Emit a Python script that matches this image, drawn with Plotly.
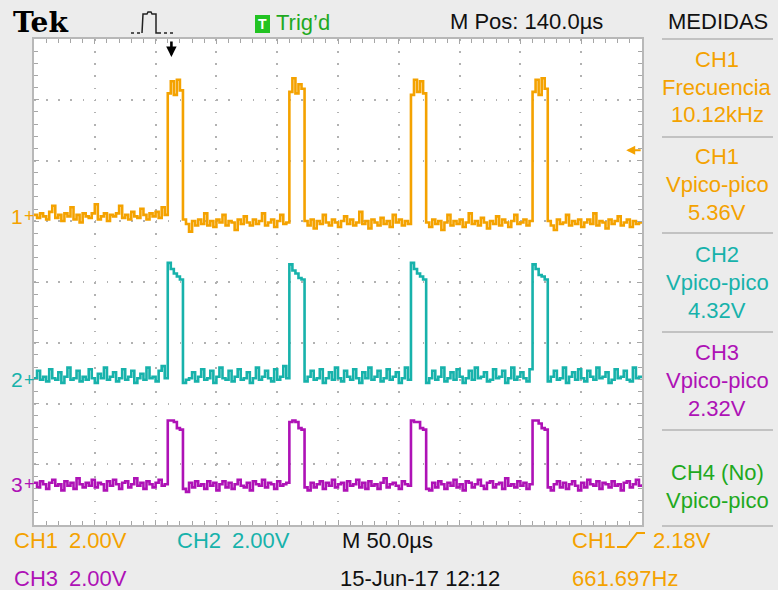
import plotly.graph_objects as go

# ---------------- data (volts relative to each channel's ground marker) ----------------
SAMPLE_US = 2.5          # sample spacing of the record
VOLTS_PER_DIV = 2.0      # CH1/CH2/CH3 2.00V/div
TIME_PER_DIV_US = 50.0   # M 50.0us

ch1_volts = [
    0.05, -0.05, 0.10, 0.00, -0.10, 0.15, 0.35, -0.05, 0.05, -0.15,
    0.10, 0.00, 0.30, -0.10, 0.05, -0.20, 0.10, 0.00, -0.05, 0.10,
    0.40, -0.10, 0.00, 0.10, -0.15, 0.05, 0.00, 0.10, 0.35, -0.05,
    0.05, -0.10, 0.15, 0.00, -0.05, 0.25, 0.05, -0.10, 0.10, 0.00,
    0.15, -0.05, 0.30, 0.05, 4.05, 4.45, 4.00, 4.50, 4.15, -0.10,
    -0.25, -0.50, -0.15, -0.30, -0.10, -0.25, 0.10, -0.30, -0.15, -0.35,
    -0.10, -0.20, 0.05, -0.30, -0.15, -0.20, -0.45, -0.10, -0.25, 0.00,
    -0.20, -0.30, -0.10, -0.25, -0.15, 0.10, -0.30, -0.20, -0.10, -0.35,
    -0.15, 0.05, -0.25, -0.20, 4.10, 4.55, 4.05, 4.35, 4.20, -0.15,
    -0.30, -0.10, -0.40, -0.15, -0.25, 0.05, -0.20, -0.30, -0.10, -0.20,
    -0.35, -0.15, 0.00, -0.25, -0.10, -0.30, -0.20, 0.15, -0.25, -0.15,
    -0.40, -0.10, -0.20, -0.30, -0.05, -0.25, -0.15, -0.35, 0.05, -0.20,
    -0.10, -0.30, -0.15, -0.25, 4.00, 4.50, 4.10, 4.45, 4.05, -0.20,
    -0.35, -0.10, -0.25, -0.15, -0.45, -0.20, 0.05, -0.30, -0.15, -0.25,
    -0.10, -0.35, -0.20, 0.10, -0.25, -0.15, -0.30, -0.05, -0.20, -0.40,
    -0.15, -0.25, 0.00, -0.30, -0.10, -0.20, -0.35, -0.15, 0.05, -0.25,
    -0.20, -0.10, -0.30, -0.15, 4.10, 4.50, 4.00, 4.55, 4.20, -0.15,
    -0.30, -0.45, -0.10, -0.25, -0.20, 0.05, -0.30, -0.15, -0.25, -0.10,
    -0.35, -0.20, -0.10, -0.25, 0.10, -0.30, -0.15, -0.20, -0.40, -0.10,
    -0.25, -0.15, 0.00, -0.30, -0.20, -0.10, -0.35, -0.15, -0.25, -0.20,
    -0.15,
]

ch2_volts = [
    0.05, 0.30, 0.00, 0.10, -0.05, 0.35, 0.05, 0.00, 0.25, -0.10,
    0.10, 0.40, 0.00, 0.05, 0.30, -0.05, 0.10, 0.00, 0.35, 0.05,
    -0.10, 0.20, 0.05, 0.40, 0.00, 0.10, 0.25, -0.05, 0.05, 0.35,
    0.00, 0.10, 0.30, -0.10, 0.05, 0.20, 0.00, 0.40, 0.05, 0.10,
    -0.05, 0.30, 0.45, 0.05, 3.85, 3.65, 3.50, 3.40, 3.30, -0.10,
    0.00, 0.05, 0.25, -0.05, 0.10, 0.35, 0.00, 0.05, 0.30, -0.10,
    0.10, 0.40, 0.05, 0.00, 0.30, -0.05, 0.10, 0.35, 0.00, 0.05,
    0.25, -0.10, 0.05, 0.40, 0.00, 0.10, 0.30, 0.05, -0.05, 0.35,
    0.00, 0.10, 0.45, 0.05, 3.80, 3.60, 3.50, 3.35, 3.30, -0.05,
    0.10, 0.30, 0.00, 0.05, 0.35, -0.10, 0.05, 0.25, 0.00, 0.40,
    0.05, -0.05, 0.30, 0.10, 0.00, 0.35, 0.05, -0.10, 0.25, 0.05,
    0.40, 0.00, 0.10, 0.30, -0.05, 0.05, 0.35, 0.00, 0.10, 0.25,
    -0.10, 0.05, 0.40, 0.00, 3.85, 3.65, 3.50, 3.40, 3.30, -0.10,
    0.05, 0.30, 0.00, 0.10, 0.40, -0.05, 0.05, 0.25, 0.00, 0.35,
    0.10, -0.10, 0.05, 0.30, 0.00, 0.40, 0.05, 0.10, 0.25, -0.05,
    0.00, 0.35, 0.05, 0.10, 0.30, -0.10, 0.05, 0.40, 0.00, 0.10,
    0.25, 0.05, -0.05, 0.35, 3.80, 3.65, 3.45, 3.40, 3.30, -0.05,
    0.10, 0.30, 0.00, 0.05, 0.40, -0.10, 0.10, 0.25, 0.00, 0.35,
    0.05, -0.05, 0.30, 0.10, 0.00, 0.40, 0.05, 0.10, 0.25, -0.10,
    0.00, 0.35, 0.05, 0.10, 0.30, 0.00, -0.05, 0.40, 0.05, 0.10,
    0.05,
]

ch3_volts = [
    0.05, -0.10, 0.10, 0.00, -0.15, 0.05, 0.15, -0.05, 0.00, -0.20,
    0.10, -0.05, 0.05, -0.15, 0.20, 0.00, -0.10, 0.05, -0.05, 0.15,
    -0.10, 0.05, 0.00, -0.20, 0.10, -0.05, 0.15, 0.00, -0.15, 0.05,
    0.10, -0.10, 0.00, 0.20, -0.05, 0.05, -0.15, 0.10, 0.00, -0.10,
    0.05, 0.15, -0.05, 0.00, 2.10, 2.10, 2.05, 1.85, 1.80, -0.15,
    -0.25, 0.05, -0.10, 0.10, -0.05, 0.00, -0.15, 0.10, -0.05, 0.05,
    -0.20, 0.00, 0.10, -0.10, 0.05, -0.15, 0.00, 0.15, -0.05, -0.10,
    0.05, -0.20, 0.10, 0.00, -0.05, 0.15, -0.10, 0.05, 0.00, -0.15,
    0.10, -0.05, 0.00, 0.05, 2.05, 2.10, 2.05, 1.85, 1.80, -0.10,
    -0.20, 0.05, -0.10, 0.00, 0.10, -0.15, 0.05, -0.05, 0.15, -0.10,
    0.00, 0.05, -0.20, 0.10, -0.05, 0.00, 0.15, -0.10, 0.05, -0.15,
    0.10, -0.05, 0.00, -0.15, 0.05, 0.20, -0.10, 0.00, 0.05, -0.05,
    -0.15, 0.10, 0.00, -0.05, 2.10, 2.05, 2.05, 1.85, 1.80, -0.15,
    -0.20, 0.05, -0.10, 0.10, 0.00, -0.15, 0.05, -0.05, 0.15, -0.10,
    0.00, -0.20, 0.10, 0.05, -0.10, 0.00, 0.15, -0.05, -0.15, 0.05,
    0.10, -0.10, 0.00, 0.05, -0.15, 0.20, -0.05, 0.00, -0.10, 0.10,
    -0.05, 0.05, -0.15, 0.00, 2.10, 2.10, 2.00, 1.85, 1.80, -0.10,
    -0.20, 0.00, 0.10, -0.10, 0.05, -0.15, 0.00, 0.10, -0.05, -0.20,
    0.05, -0.10, 0.15, 0.00, -0.05, 0.10, -0.15, 0.05, 0.00, -0.10,
    0.10, -0.05, 0.00, -0.20, 0.05, 0.10, -0.10, 0.00, 0.15, -0.05,
    0.00,
]

channel_names = ["1", "2", "3"]
trigger_level_v = 2.18
trigger_time_us = 113.0

measure_labels = [
    ("CH1", "Frecuencia", "10.12kHz"),
    ("CH1", "Vpico-pico", "5.36V"),
    ("CH2", "Vpico-pico", "4.32V"),
    ("CH3", "Vpico-pico", "2.32V"),
    ("CH4 (No)", "Vpico-pico", ""),
]

# ---------------- style / layout ----------------
W, H = 778, 590
PL, PT, PR, PB = 34, 39, 642, 525     # plot area (px)
N_HDIV, N_VDIV = 10, 8

ORANGE = "#f4a200"
TEAL = "#17b2ab"
MAGENTA = "#ae12b6"
GREEN = "#1fa91f"
GRID = "#b2b2b2"
PANEL = "#ececec"
FONT = "Liberation Sans"

ch_colors = [ORANGE, TEAL, MAGENTA]
ch_offsets_div = [5.08, 2.39, 0.67]   # ground marker positions (divisions from bottom)


def px(x):
    return (x - PL) / (PR - PL)


def py(y):
    return (PB - y) / (PB - PT)


time_us = [i * SAMPLE_US for i in range(len(ch1_volts))]

fig = go.Figure()
for vals, col, off in zip([ch1_volts, ch2_volts, ch3_volts], ch_colors, ch_offsets_div):
    fig.add_trace(go.Scatter(
        x=time_us, y=[off + v / VOLTS_PER_DIV for v in vals], mode="lines",
        line=dict(color=col, width=2.6, shape="hv"), hoverinfo="skip"))

annotations = []


def txt(x, y, s, color="#111111", size=22, xanchor="left", family=FONT):
    annotations.append(dict(
        x=px(x), y=py(y), xref="paper", yref="paper", text=s, showarrow=False,
        xanchor=xanchor, yanchor="middle",
        font=dict(family=family, size=size, color=color)))


# header
txt(11, 23, "<b>Tek</b>", color="#000000", size=28, family="DejaVu Serif")
txt(262.5, 24, "<b>T</b>", color="white", size=14, xanchor="center")
txt(274, 23, "Trig\u2019d", color=GREEN, size=22)
txt(448, 21, "M Pos: 140.0\u00b5s", size=22)
txt(718, 21, "MEDIDAS", size=22, xanchor="center")

# side measurements
block_tops = [59, 156, 254, 352, 472]
block_colors = [ORANGE, ORANGE, TEAL, MAGENTA, GREEN]
for (a, b, c), yt, col in zip(measure_labels, block_tops, block_colors):
    txt(717, yt, a, color=col, xanchor="center")
    txt(717, yt + 28, b, color=col, xanchor="center")
    if c:
        txt(717, yt + 56, c, color=col, xanchor="center")

# footer
txt(12, 540, "CH1", color=ORANGE)
txt(67, 540, "2.00V", color=ORANGE)
txt(175, 540, "CH2", color=TEAL)
txt(230, 540, "2.00V", color=TEAL)
txt(340, 540, "M 50.0\u00b5s")
txt(12, 578, "CH3", color=MAGENTA)
txt(67, 578, "2.00V", color=MAGENTA)
txt(338, 578, "15-Jun-17 12:12")
txt(570, 540, "CH1", color=ORANGE)
txt(651, 540, "2.18V", color=ORANGE)
txt(570, 578, "661.697Hz", color=ORANGE)

# channel ground markers
for name, col, off in zip(channel_names, ch_colors, ch_offsets_div):
    annotations.append(dict(x=px(17), y=off, xref="paper", yref="y", text=name, showarrow=False,
                            xanchor="center", yanchor="middle",
                            font=dict(family=FONT, size=21, color=col)))
    annotations.append(dict(x=px(29), y=off, xref="paper", yref="y", text="+", showarrow=False,
                            xanchor="center", yanchor="middle",
                            font=dict(family=FONT, size=18, color=col)))

# trigger position arrow (top) and trigger level arrow (right)
annotations.append(dict(x=trigger_time_us, y=py(57), xref="x", yref="paper", text="",
                        showarrow=True, ax=0, ay=-17, arrowhead=2, arrowsize=0.8,
                        arrowwidth=2.6, arrowcolor="#000000"))
annotations.append(dict(x=487, y=ch_offsets_div[0] + trigger_level_v / VOLTS_PER_DIV,
                        xref="x", yref="y", text="", showarrow=True, ax=16, ay=0,
                        arrowhead=2, arrowsize=0.9, arrowwidth=2, arrowcolor=ORANGE))

shapes = []
# green trigger box
shapes.append(dict(type="rect", xref="paper", yref="paper", x0=px(255), x1=px(270), y0=py(33), y1=py(15),
                   fillcolor="#22c322", line=dict(width=0), layer="below"))
# acquisition pulse icon
shapes.append(dict(type="line", xref="paper", yref="paper", x0=px(131), x1=px(142), y0=py(33), y1=py(33),
                   line=dict(color="#222222", width=1.5, dash="dot")))
shapes.append(dict(type="path", xref="paper", yref="paper",
                   path="M {} {} L {} {} L {} {} L {} {} L {} {} L {} {} L {} {} L {} {} L {} {}".format(
                       px(142), py(33), px(143), py(14), px(147), py(14), px(148), py(12),
                       px(151), py(12), px(152), py(14), px(156), py(14), px(156), py(33), px(158), py(33)),
                   line=dict(color="#222222", width=1.5)))
shapes.append(dict(type="line", xref="paper", yref="paper", x0=px(158), x1=px(174), y0=py(33), y1=py(33),
                   line=dict(color="#222222", width=1.5, dash="dot")))
# rising-edge trigger symbol
shapes.append(dict(type="path", xref="paper", yref="paper",
                   path="M {} {} L {} {} L {} {} L {} {}".format(
                       px(617), py(547), px(626), py(547), px(637), py(533), px(645), py(533)),
                   line=dict(color=ORANGE, width=2)))
# side-panel separators
for ys in [39, 137, 233, 332, 430, 526]:
    shapes.append(dict(type="line", xref="paper", yref="paper", x0=px(662), x1=px(773), y0=py(ys), y1=py(ys),
                       line=dict(color="#b4b4b4", width=1.5)))

axis_common = dict(showgrid=True, gridcolor=GRID, gridwidth=1.5, griddash="1.5px,10.65px",
                   ticks="inside", ticklen=5, tickwidth=1, tickcolor="#a6a6a6",
                   showline=True, linecolor="#b8b8b8", linewidth=2, mirror="allticks",
                   zeroline=False, showticklabels=False, fixedrange=True)

fig.update_layout(
    width=W, height=H, autosize=False,
    margin=dict(l=PL, r=W - PR, t=PT, b=H - PB, pad=0),
    paper_bgcolor=PANEL, plot_bgcolor="#ffffff", showlegend=False,
    xaxis=dict(range=[0, N_HDIV * TIME_PER_DIV_US], tick0=0, dtick=TIME_PER_DIV_US,
               minor=dict(dtick=TIME_PER_DIV_US / 5, ticks="inside", ticklen=4, tickcolor="#a6a6a6", showgrid=False),
               **axis_common),
    yaxis=dict(range=[0, N_VDIV], tick0=0, dtick=1,
               minor=dict(dtick=0.2, ticks="inside", ticklen=4, tickcolor="#a6a6a6", showgrid=False),
               **axis_common),
    annotations=annotations, shapes=shapes,
)

fig.write_html(
    "out.html",
    config={"displayModeBar": False},
    post_script="document.body.style.margin='0';document.body.style.background='" + PANEL + "';",
)
